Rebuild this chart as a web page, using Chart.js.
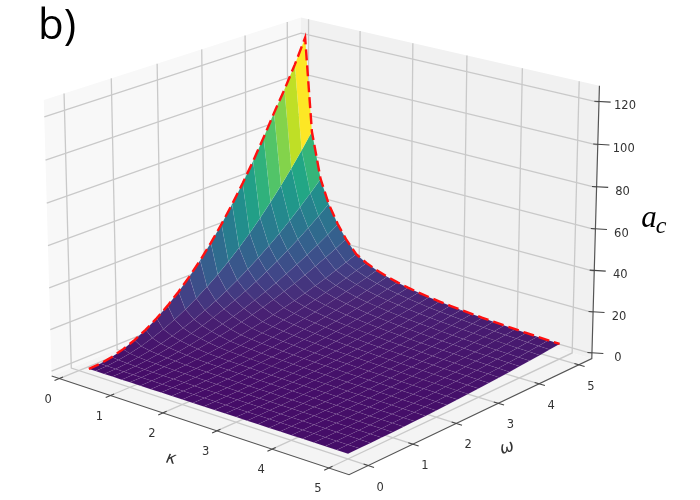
<!DOCTYPE html>
<html>
<head>
<meta charset="utf-8">
<style>
  html, body { margin: 0; padding: 0; background: #fff; }
  #chart { display: block; filter: blur(0.45px); }
</style>
<script src="https://cdn.jsdelivr.net/npm/chart.js"></script>
</head>
<body>
<canvas id="chart" width="700" height="500"></canvas>
<script>
const kappaValues = [0.2, 0.33, 0.5, 0.66, 0.84, 1, 1.2, 1.4, 1.6, 1.8, 2, 2.2, 2.4, 2.6, 2.8, 3, 3.2, 3.4, 3.6, 3.8, 4, 4.2, 4.4, 4.6, 4.8, 5]
const omegaValues = [0, 0.25, 0.5, 0.75, 1, 1.25, 1.5, 1.75, 2, 2.25, 2.5, 2.75, 3, 3.25, 3.5, 3.75, 4, 4.25, 4.5, 4.75, 5]

// a_c, one row per kappa, one column per omega
const acValues = [
  [0, 0.31, 1.25, 2.81, 5, 7.81, 11.25, 15.31, 20, 25.31, 31.25, 37.81, 45, 52.81, 61.25, 70.31, 80, 90.31, 100, 110.5, 122],
  [0, 0.19, 0.76, 1.72, 3.06, 4.77, 6.88, 9.36, 12.22, 15.47, 19.1, 23.11, 27.5, 32.27, 37.43, 42.97, 48.88, 55.19, 61.88, 68.94, 76.4],
  [0, 0.13, 0.54, 1.21, 2.15, 3.36, 4.85, 6.6, 8.61, 10.91, 13.46, 16.28, 19.39, 22.75, 26.39, 30.28, 34.46, 38.91, 43.61, 48.6, 53.85],
  [0, 0.1, 0.43, 0.95, 1.69, 2.65, 3.81, 5.18, 6.76, 8.56, 10.57, 12.79, 15.23, 17.86, 20.71, 23.78, 27.06, 30.54, 34.25, 38.16, 42.27],
  [0, 0.08, 0.34, 0.75, 1.33, 2.08, 3, 4.09, 5.33, 6.75, 8.33, 10.08, 12, 14.08, 16.33, 18.75, 21.34, 24.08, 27, 30.08, 33.33],
  [0, 0.06, 0.27, 0.6, 1.08, 1.68, 2.43, 3.3, 4.32, 5.46, 6.75, 8.16, 9.72, 11.4, 13.23, 15.18, 17.28, 19.5, 21.87, 24.36, 27],
  [0, 0.05, 0.21, 0.47, 0.83, 1.3, 1.88, 2.55, 3.33, 4.22, 5.21, 6.3, 7.5, 8.8, 10.21, 11.72, 13.33, 15.05, 16.88, 18.8, 20.83],
  [0, 0.04, 0.18, 0.4, 0.71, 1.12, 1.61, 2.19, 2.86, 3.62, 4.46, 5.4, 6.43, 7.54, 8.75, 10.04, 11.43, 12.9, 14.46, 16.12, 17.86],
  [0, 0.04, 0.16, 0.35, 0.63, 0.98, 1.41, 1.91, 2.5, 3.16, 3.91, 4.73, 5.63, 6.6, 7.66, 8.79, 10, 11.29, 12.66, 14.1, 15.63],
  [0, 0.03, 0.14, 0.31, 0.56, 0.87, 1.25, 1.7, 2.22, 2.81, 3.47, 4.2, 5, 5.87, 6.81, 7.81, 8.89, 10.03, 11.25, 12.53, 13.89],
  [0, 0.03, 0.13, 0.28, 0.5, 0.78, 1.13, 1.53, 2, 2.53, 3.13, 3.78, 4.5, 5.28, 6.13, 7.03, 8, 9.03, 10.13, 11.28, 12.5],
  [0, 0.03, 0.11, 0.26, 0.45, 0.71, 1.02, 1.39, 1.82, 2.3, 2.84, 3.44, 4.09, 4.8, 5.57, 6.39, 7.27, 8.21, 9.2, 10.26, 11.36],
  [0, 0.03, 0.1, 0.23, 0.42, 0.65, 0.94, 1.28, 1.67, 2.11, 2.6, 3.15, 3.75, 4.4, 5.1, 5.86, 6.67, 7.53, 8.44, 9.4, 10.42],
  [0, 0.02, 0.1, 0.22, 0.38, 0.6, 0.87, 1.18, 1.54, 1.95, 2.4, 2.91, 3.46, 4.06, 4.71, 5.41, 6.15, 6.95, 7.79, 8.68, 9.62],
  [0, 0.02, 0.09, 0.2, 0.36, 0.56, 0.8, 1.09, 1.43, 1.81, 2.23, 2.7, 3.21, 3.77, 4.38, 5.02, 5.71, 6.45, 7.23, 8.06, 8.93],
  [0, 0.02, 0.08, 0.19, 0.33, 0.52, 0.75, 1.02, 1.33, 1.69, 2.08, 2.52, 3, 3.52, 4.08, 4.69, 5.33, 6.02, 6.75, 7.52, 8.33],
  [0, 0.02, 0.08, 0.18, 0.31, 0.49, 0.7, 0.96, 1.25, 1.58, 1.95, 2.36, 2.81, 3.3, 3.83, 4.39, 5, 5.64, 6.33, 7.05, 7.81],
  [0, 0.02, 0.07, 0.17, 0.29, 0.46, 0.66, 0.9, 1.18, 1.49, 1.84, 2.22, 2.65, 3.11, 3.6, 4.14, 4.71, 5.31, 5.96, 6.64, 7.35],
  [0, 0.02, 0.07, 0.16, 0.28, 0.43, 0.63, 0.85, 1.11, 1.41, 1.74, 2.1, 2.5, 2.93, 3.4, 3.91, 4.44, 5.02, 5.63, 6.27, 6.94],
  [0, 0.02, 0.07, 0.15, 0.26, 0.41, 0.59, 0.81, 1.05, 1.33, 1.64, 1.99, 2.37, 2.78, 3.22, 3.7, 4.21, 4.75, 5.33, 5.94, 6.58],
  [0, 0.02, 0.06, 0.14, 0.25, 0.39, 0.56, 0.77, 1, 1.27, 1.56, 1.89, 2.25, 2.64, 3.06, 3.52, 4, 4.52, 5.06, 5.64, 6.25],
  [0, 0.01, 0.06, 0.13, 0.24, 0.37, 0.54, 0.73, 0.95, 1.21, 1.49, 1.8, 2.14, 2.51, 2.92, 3.35, 3.81, 4.3, 4.82, 5.37, 5.95],
  [0, 0.01, 0.06, 0.13, 0.23, 0.36, 0.51, 0.7, 0.91, 1.15, 1.42, 1.72, 2.05, 2.4, 2.78, 3.2, 3.64, 4.11, 4.6, 5.13, 5.68],
  [0, 0.01, 0.05, 0.12, 0.22, 0.34, 0.49, 0.67, 0.87, 1.1, 1.36, 1.64, 1.96, 2.3, 2.66, 3.06, 3.48, 3.93, 4.4, 4.9, 5.43],
  [0, 0.01, 0.05, 0.12, 0.21, 0.33, 0.47, 0.64, 0.83, 1.05, 1.3, 1.58, 1.88, 2.2, 2.55, 2.93, 3.33, 3.76, 4.22, 4.7, 5.21],
  [0, 0.01, 0.05, 0.11, 0.2, 0.31, 0.45, 0.61, 0.8, 1.01, 1.25, 1.51, 1.8, 2.11, 2.45, 2.81, 3.2, 3.61, 4.05, 4.51, 5]
]

const kappaTicks = [0, 1, 2, 3, 4, 5]
const omegaTicks = [0, 1, 2, 3, 4, 5]
const acTicks = [0, 20, 40, 60, 80, 100, 120]

const kappaLim = [-0.15, 5.35]
const omegaLim = [-0.42, 5.33]
const acLim = [-2.4, 127.7]

// same camera as a matplotlib 3d axes
const elev = 19.3 * Math.PI / 180
const azim = -50 * Math.PI / 180
const dist = 10
const boxX = 1.1435
const boxY = 1.1435
const boxZ = 0.855
const pxScale = 340
const centerX = 323.5
const centerY = 232

const viridis = ["#450d68", "#482475", "#414487", "#355f8d", "#2a788e", "#21918c", "#22a884", "#44bf70", "#7ad151", "#bddf26", "#fde725"]

const camDir = [Math.cos(elev) * Math.cos(azim), Math.cos(elev) * Math.sin(azim), Math.sin(elev)]
const camRight = [-Math.sin(azim), Math.cos(azim), 0]
const camUp = [
  camDir[1] * camRight[2] - camDir[2] * camRight[1],
  camDir[2] * camRight[0] - camDir[0] * camRight[2],
  camDir[0] * camRight[1] - camDir[1] * camRight[0],
]

function dot(a, b) {
  return a[0] * b[0] + a[1] * b[1] + a[2] * b[2]
}

function toBox(k, w, z) {
  return [
    ((k - kappaLim[0]) / (kappaLim[1] - kappaLim[0]) - 0.5) * boxX,
    ((w - omegaLim[0]) / (omegaLim[1] - omegaLim[0]) - 0.5) * boxY,
    ((z - acLim[0]) / (acLim[1] - acLim[0]) - 0.5) * boxZ,
  ]
}

function project(k, w, z) {
  const p = toBox(k, w, z)
  const f = dist / (dist - dot(p, camDir))
  return {
    x: centerX + pxScale * f * dot(p, camRight),
    y: centerY - pxScale * f * dot(p, camUp),
  }
}

function depth(k, w, z) {
  return dot(toBox(k, w, z), camDir)
}

function viridisColor(t) {
  const pos = Math.min(Math.max(t, 0), 1) * (viridis.length - 1)
  const i = Math.min(Math.floor(pos), viridis.length - 2)
  const mix = pos - i
  const a = parseInt(viridis[i].slice(1), 16)
  const b = parseInt(viridis[i + 1].slice(1), 16)
  const ch = (shift) => Math.round(((a >> shift) & 255) * (1 - mix) + ((b >> shift) & 255) * mix)
  return "rgb(" + ch(16) + "," + ch(8) + "," + ch(0) + ")"
}

function polygon(points, color, extra) {
  return Object.assign({
    data: points.concat([points[0]]),
    showLine: true,
    fill: "shape",
    backgroundColor: color,
    borderColor: color,
    borderWidth: 0,
    pointRadius: 0,
    tension: 0,
    clip: false,
  }, extra || {})
}

function line(points, color, width, dash) {
  return {
    data: points,
    showLine: true,
    fill: false,
    borderColor: color,
    borderWidth: width,
    borderDash: dash || [],
    pointRadius: 0,
    tension: 0,
    clip: false,
  }
}

function buildPanes() {
  const [k0, k1] = kappaLim
  const [w0, w1] = omegaLim
  const [z0, z1] = acLim
  return [
    polygon([project(k0, w0, z0), project(k0, w1, z0), project(k0, w1, z1), project(k0, w0, z1)], "#f8f8f8"),
    polygon([project(k0, w1, z0), project(k1, w1, z0), project(k1, w1, z1), project(k0, w1, z1)], "#f1f1f1"),
    polygon([project(k0, w0, z0), project(k1, w0, z0), project(k1, w1, z0), project(k0, w1, z0)], "#f4f4f4"),
  ]
}

function buildGrid() {
  const out = []
  const [k0, k1] = kappaLim
  const [w0, w1] = omegaLim
  const [z0, z1] = acLim
  const color = "#c9c9c9"
  kappaTicks.forEach((k) => {
    out.push(line([project(k, w0, z0), project(k, w1, z0), project(k, w1, z1)], color, 1.3))
  })
  omegaTicks.forEach((w) => {
    out.push(line([project(k1, w, z0), project(k0, w, z0), project(k0, w, z1)], color, 1.3))
  })
  acTicks.forEach((z) => {
    out.push(line([project(k0, w0, z), project(k0, w1, z), project(k1, w1, z)], color, 1.3))
  })
  return out
}

function buildAxes() {
  const out = []
  const [k0, k1] = kappaLim
  const [w0, w1] = omegaLim
  const [z0, z1] = acLim
  const axisColor = "#555555"
  out.push(line([project(k0, w0, z0), project(k1, w0, z0), project(k1, w1, z0), project(k1, w1, z1)], axisColor, 1.2))
  kappaTicks.forEach((k) => {
    out.push(line([project(k, w0 + 0.08, z0), project(k, w0 - 0.1, z0)], "#444444", 1.1))
  })
  omegaTicks.forEach((w) => {
    out.push(line([project(k1 - 0.08, w, z0), project(k1 + 0.1, w, z0)], "#444444", 1.1))
  })
  acTicks.forEach((z) => {
    out.push(line([project(k1 - 0.08, w1, z), project(k1 + 0.12, w1 + 0.12, z)], "#444444", 1.1))
  })
  return out
}

function buildSurface() {
  const cells = []
  for (let i = 0; i < kappaValues.length - 1; i++) {
    for (let j = 0; j < omegaValues.length - 1; j++) {
      const corners = [[i, j], [i + 1, j], [i + 1, j + 1], [i, j + 1]]
      const mean = corners.reduce((sum, c) => sum + acValues[c[0]][c[1]], 0) / 4
      const d = corners.reduce((sum, c) => sum + depth(kappaValues[c[0]], omegaValues[c[1]], acValues[c[0]][c[1]]), 0) / 4
      cells.push({ corners, mean, d })
    }
  }
  const maxMean = Math.max(...cells.map((c) => c.mean))
  const minMean = Math.min(...cells.map((c) => c.mean))
  cells.sort((a, b) => a.d - b.d)
  return cells.map((cell) => {
    const pts = cell.corners.map((c) => project(kappaValues[c[0]], omegaValues[c[1]], acValues[c[0]][c[1]]))
    const color = viridisColor((cell.mean - minMean) / (maxMean - minMean))
    return polygon(pts, color, { borderWidth: 0.7, borderColor: "rgba(255,255,255,0.05)" })
  })
}

function buildRedEdges() {
  const leftEdge = omegaValues.map((w, j) => project(kappaValues[0], w, acValues[0][j]))
  const last = omegaValues.length - 1
  const rightEdge = kappaValues.map((k, i) => project(k, omegaValues[last], acValues[i][last]))
  return [line(leftEdge.concat(rightEdge.slice(1)), "#ff1010", 2.4, [11, 5])]
}

// tick labels and titles are plain canvas text on top of the chart
const textPlugin = {
  id: "axisText",
  afterDraw(chart) {
    const ctx = chart.ctx
    ctx.save()
    ctx.textAlign = "center"
    ctx.textBaseline = "middle"
    ctx.fillStyle = "#333333"
    ctx.font = "11.5px 'DejaVu Sans'"
    kappaTicks.forEach((k) => {
      const p = project(k, omegaLim[0], acLim[0])
      ctx.fillText(String(k), p.x - 11, p.y + 21)
    })
    omegaTicks.forEach((w) => {
      const p = project(kappaLim[1], w, acLim[0])
      ctx.fillText(String(w), p.x + 12, p.y + 22)
    })
    acTicks.forEach((z) => {
      const p = project(kappaLim[1], omegaLim[1], z)
      ctx.fillText(String(z), p.x + 26, p.y + 4)
    })

    ctx.font = "italic 17px 'DejaVu Sans'"
    ctx.save()
    ctx.translate(171, 459)
    ctx.rotate(0.2)
    ctx.fillText("κ", 0, 0)
    ctx.restore()
    ctx.save()
    ctx.translate(507, 448)
    ctx.rotate(-0.3)
    ctx.fillText("ω", 0, 0)
    ctx.restore()

    ctx.fillStyle = "#000000"
    ctx.font = "italic 31px 'Liberation Serif'"
    ctx.fillText("a", 649, 219)
    ctx.font = "italic 24px 'Liberation Serif'"
    ctx.fillText("c", 661, 227)

    ctx.textAlign = "left"
    ctx.font = "42px 'Open Sans'"
    ctx.fillText("b)", 38, 27)
    ctx.restore()
  },
}

const datasets = [...buildPanes(), ...buildGrid(), ...buildAxes(), ...buildSurface(), ...buildRedEdges()]

// chart.js paints the first dataset last, so hand them over back to front
new Chart(document.getElementById("chart"), {
  type: "scatter",
  data: { datasets: datasets.reverse() },
  plugins: [textPlugin],
  options: {
    responsive: false,
    animation: false,
    events: [],
    layout: { padding: 0 },
    plugins: { legend: { display: false }, tooltip: { enabled: false } },
    scales: {
      x: { type: "linear", min: 0, max: 700, display: false },
      y: { type: "linear", min: 0, max: 500, reverse: true, display: false },
    },
  },
})
</script>
</body>
</html>
